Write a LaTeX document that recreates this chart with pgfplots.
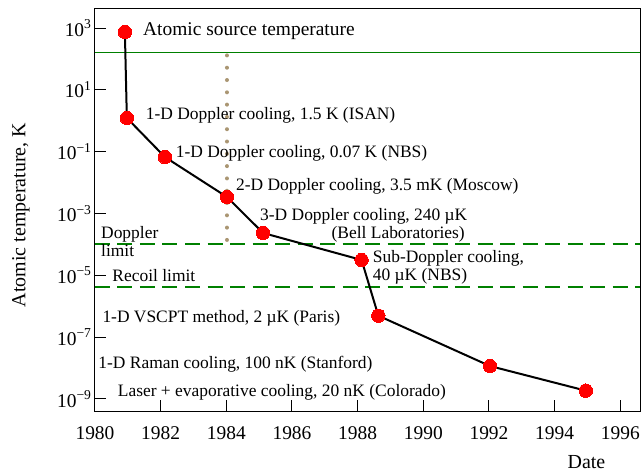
\documentclass[border=0pt]{standalone}
\usepackage{fontspec}
\setmainfont{Liberation Serif}
\usepackage{pgfplots}
\pgfplotsset{compat=1.18}
\definecolor{dgreen}{RGB}{0,128,0}
\definecolor{tanc}{RGB}{170,150,115}
\newcommand\ann{\fontsize{17.5}{18}\selectfont}
\begin{document}
\begin{tikzpicture}
\begin{axis}[
  at={(0,0)}, anchor=south west,
  scale only axis, width=545bp, height=402bp,
  xmin=1980, xmax=1996.6,
  ymode=log, ymin=4.07e-10, ymax=4130,
  xtick={1980,1982,1984,1986,1988,1990,1992,1994,1996},
  xticklabels={1980,1982,1984,1986,1988,1990,1992,1994,1996},
  ytick={1e3,1e1,1e-1,1e-3,1e-5,1e-7,1e-9},
  yticklabels={10\textsuperscript{3},10\textsuperscript{1},10\textsuperscript{−1},10\textsuperscript{−3},10\textsuperscript{−5},10\textsuperscript{−7},10\textsuperscript{−9}},
  yminorticks=false, xminorticks=false,
  tick pos=left,
  tick align=inside,
  major tick length=11bp,
  tick style={black, line width=1bp},
  axis line style={line width=1bp},
  ticklabel style={font=\fontsize{19.5}{20}\selectfont},
  xticklabel style={yshift=-12bp},
  ylabel={Atomic temperature, K},
  ylabel style={at={(axis description cs:-0.136,0.4876)}, anchor=center, font=\fontsize{20}{22}\selectfont},
]
\addplot[dgreen, line width=1.3bp] coordinates {(1980,164) (1996.6,164)};
\addplot[dgreen, line width=2bp, dash pattern=on 15bp off 7.5bp] coordinates {(1980,1.0e-4) (1996.6,1.0e-4)};
\addplot[dgreen, line width=2bp, dash pattern=on 15bp off 7.5bp] coordinates {(1980,4.3e-6) (1996.6,4.3e-6)};
\addplot[tanc, line width=4bp, line cap=round, dash pattern=on 0bp off 12.3bp] coordinates {(1984.02,130) (1984.02,1.1e-4)};
\addplot[black, line width=2bp, mark=*, mark size=6.7bp, mark options={fill=red, draw=red, line width=0pt}] coordinates {
  (1980.91,745) (1980.97,1.23) (1982.13,0.067) (1984.02,3.42e-3) (1985.12,2.34e-4)
  (1988.12,3.13e-5) (1988.63,4.93e-7) (1992.03,1.16e-8) (1994.95,1.85e-9)};
\begin{scope}[every node/.style={inner sep=0pt, font=\ann}]
\node[anchor=base west, font=\fontsize{19.5}{20}\selectfont] at (rel axis cs:0.0881,0.9341) {Atomic source temperature};
\node[anchor=base west] at (rel axis cs:0.0930,0.7239) {1-D Doppler cooling, 1.5 K (ISAN)};
\node[anchor=base west] at (rel axis cs:0.1481,0.6313) {1-D Doppler cooling, 0.07 K (NBS)};
\node[anchor=base west] at (rel axis cs:0.2587,0.5485) {2-D Doppler cooling, 3.5 mK (Moscow)};
\node[anchor=base west] at (rel axis cs:0.3028,0.4739) {3-D Doppler cooling, 240 µK};
\node[anchor=base east] at (rel axis cs:0.6789,0.4299) {(Bell Laboratories)};
\node[anchor=base west] at (rel axis cs:0.5095,0.3701) {Sub-Doppler cooling,};
\node[anchor=base west] at (rel axis cs:0.5095,0.3246) {40 µK (NBS)};
\node[anchor=base west] at (rel axis cs:0.011,0.4299) {Doppler};
\node[anchor=base west] at (rel axis cs:0.011,0.3851) {limit};
\node[anchor=base west] at (rel axis cs:0.0317,0.3221) {Recoil limit};
\node[anchor=base west] at (rel axis cs:0.0134,0.2209) {1-D VSCPT method, 2 µK (Paris)};
\node[anchor=base west] at (rel axis cs:0.006,0.1050) {1-D Raman cooling, 100 nK (Stanford)};
\node[anchor=base west] at (rel axis cs:0.0417,0.0361) {Laser~+~evaporative cooling, 20 nK (Colorado)};
\end{scope}
\end{axis}
\node[anchor=center, font=\fontsize{20}{22}\selectfont] at (491.5bp,-50.7bp) {Date};
\pgfresetboundingbox
\path (-95bp,-62bp) rectangle (546bp,411bp);
\end{tikzpicture}
\end{document}
